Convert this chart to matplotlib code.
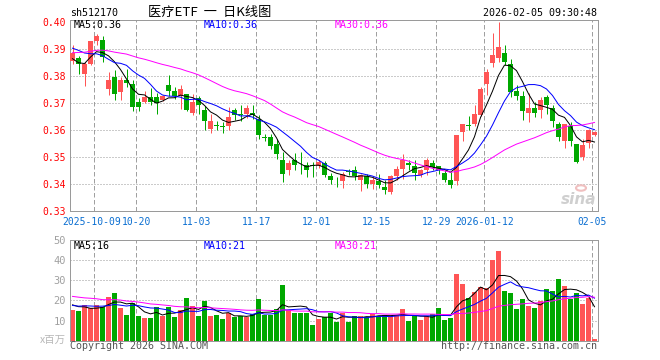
import numpy as np
import pandas as pd
import matplotlib
matplotlib.use("Agg")
import matplotlib.pyplot as plt
from matplotlib import transforms

# ---------------- data ----------------
tick_idx = [4, 11, 21, 31, 41, 51, 61, 69, 87]
tick_labels = ["2025-10-09", "10-20", "11-03", "11-17", "12-01",
               "12-15", "12-29", "2026-01-12", "02-05"]

open_ = [0.3854, 0.3864, 0.3807, 0.3844, 0.3927, 0.3934, 0.3752, 0.3795, 0.3740, 0.3783,
         0.3770, 0.3702, 0.3702, 0.3722, 0.3721, 0.3709, 0.3764, 0.3743, 0.3723, 0.3731,
         0.3662, 0.3719, 0.3672, 0.3603, 0.3617, 0.3611, 0.3612, 0.3672, 0.3657, 0.3657,
         0.3662, 0.3641, 0.3573, 0.3573, 0.3548, 0.3489, 0.3449, 0.3489, 0.3478, 0.3471,
         0.3467, 0.3465, 0.3476, 0.3427, 0.3408, 0.3410, 0.3448, 0.3449, 0.3415, 0.3427,
         0.3400, 0.3409, 0.3387, 0.3369, 0.3427, 0.3456, 0.3476, 0.3465, 0.3431, 0.3449,
         0.3476, 0.3465, 0.3439, 0.3415, 0.3410, 0.3591, 0.3618, 0.3620, 0.3653, 0.3770,
         0.3847, 0.3865, 0.3885, 0.3844, 0.3743, 0.3723, 0.3661, 0.3681, 0.3674, 0.3721,
         0.3681, 0.3620, 0.3560, 0.3612, 0.3548, 0.3499, 0.3552, 0.3580]
high = [0.3915, 0.3872, 0.3851, 0.3930, 0.3955, 0.3947, 0.3814, 0.3822, 0.3795, 0.3826,
        0.3783, 0.3718, 0.3743, 0.3756, 0.3735, 0.3730, 0.3804, 0.3758, 0.3764, 0.3733,
        0.3731, 0.3724, 0.3686, 0.3657, 0.3632, 0.3628, 0.3684, 0.3682, 0.3690, 0.3690,
        0.3690, 0.3653, 0.3585, 0.3585, 0.3567, 0.3517, 0.3486, 0.3514, 0.3518, 0.3481,
        0.3481, 0.3486, 0.3483, 0.3440, 0.3426, 0.3443, 0.3455, 0.3467, 0.3435, 0.3435,
        0.3425, 0.3437, 0.3415, 0.3431, 0.3467, 0.3509, 0.3486, 0.3486, 0.3455, 0.3496,
        0.3489, 0.3467, 0.3449, 0.3443, 0.3580, 0.3620, 0.3652, 0.3690, 0.3758, 0.3826,
        0.3958, 0.3998, 0.3915, 0.3863, 0.3765, 0.3745, 0.3735, 0.3702, 0.3722, 0.3728,
        0.3690, 0.3630, 0.3620, 0.3630, 0.3548, 0.3565, 0.3602, 0.3595]
low = [0.3845, 0.3807, 0.3762, 0.3840, 0.3912, 0.3850, 0.3728, 0.3709, 0.3709, 0.3758,
       0.3669, 0.3669, 0.3700, 0.3690, 0.3659, 0.3705, 0.3723, 0.3715, 0.3678, 0.3668,
       0.3653, 0.3657, 0.3600, 0.3588, 0.3600, 0.3588, 0.3598, 0.3635, 0.3632, 0.3643,
       0.3640, 0.3567, 0.3560, 0.3530, 0.3493, 0.3406, 0.3434, 0.3449, 0.3437, 0.3425,
       0.3425, 0.3458, 0.3425, 0.3400, 0.3388, 0.3383, 0.3432, 0.3412, 0.3374, 0.3385,
       0.3380, 0.3383, 0.3363, 0.3363, 0.3415, 0.3419, 0.3452, 0.3415, 0.3425, 0.3431,
       0.3449, 0.3437, 0.3405, 0.3383, 0.3397, 0.3560, 0.3600, 0.3612, 0.3649, 0.3727,
       0.3832, 0.3850, 0.3838, 0.3721, 0.3709, 0.3636, 0.3630, 0.3647, 0.3645, 0.3660,
       0.3610, 0.3560, 0.3531, 0.3541, 0.3477, 0.3486, 0.3533, 0.3575]
close = [0.3885, 0.3843, 0.3843, 0.3927, 0.3947, 0.3868, 0.3783, 0.3733, 0.3783, 0.3772,
         0.3684, 0.3684, 0.3721, 0.3703, 0.3699, 0.3723, 0.3743, 0.3724, 0.3752, 0.3674,
         0.3702, 0.3690, 0.3632, 0.3632, 0.3615, 0.3609, 0.3647, 0.3653, 0.3655, 0.3681,
         0.3653, 0.3579, 0.3570, 0.3538, 0.3509, 0.3437, 0.3476, 0.3471, 0.3475, 0.3452,
         0.3465, 0.3480, 0.3431, 0.3412, 0.3405, 0.3437, 0.3445, 0.3427, 0.3431, 0.3400,
         0.3415, 0.3397, 0.3375, 0.3427, 0.3456, 0.3489, 0.3468, 0.3439, 0.3449, 0.3489,
         0.3462, 0.3449, 0.3415, 0.3397, 0.3579, 0.3620, 0.3615, 0.3659, 0.3752, 0.3813,
         0.3875, 0.3906, 0.3850, 0.3740, 0.3723, 0.3671, 0.3681, 0.3661, 0.3711, 0.3690,
         0.3634, 0.3573, 0.3620, 0.3560, 0.3480, 0.3542, 0.3600, 0.3590]
volume = [15, 14.5, 17.5, 16.3, 17.5, 16.8, 21.7, 23.7, 16.2, 13,
          18.7, 12.5, 11.2, 11.2, 16.7, 12.2, 16.7, 11.7, 15.3, 21.2,
          17.2, 12.2, 19.7, 12.2, 13, 11, 13.8, 11.7, 12.2, 11.7,
          13.3, 20.5, 12.8, 12.8, 15.8, 27.5, 15, 13.8, 13.8, 13.8,
          8, 10.8, 12, 13.8, 9.2, 13.8, 9.5, 12.2, 12.5, 11.7,
          13.3, 12.2, 12.8, 12.2, 12.8, 15.5, 10, 12.2, 10.5, 12.2,
          13.3, 16.2, 10.5, 11.2, 33, 28, 21.2, 24.2, 26.7, 26.3,
          40, 44.5, 24.5, 23.7, 15.5, 20.5, 17.2, 16.2, 19.5, 25.5,
          24.5, 30.5, 27, 20.5, 23.8, 18, 21.2, 0.8]

# estimated history before the visible window (only used to warm up the moving averages)
prior_close = [0.3810, 0.3820, 0.3825, 0.3835, 0.3850, 0.3862, 0.3875, 0.3890, 0.3880, 0.3895,
               0.3888, 0.3878, 0.3890, 0.3902, 0.3910, 0.3898, 0.3905, 0.3915, 0.3900, 0.3902,
               0.3925, 0.3940, 0.3955, 0.3948, 0.3937, 0.3918, 0.3858, 0.3807, 0.3847]
prior_volume = [26, 28, 22, 25, 30, 24, 21, 23, 27, 25, 22, 24, 26, 23, 21, 25, 24, 22, 23, 24,
                18, 16, 17, 19, 16, 19, 18, 20, 17]

# ---------------- styling ----------------
W, H = 660, 360
RED = '#ff5555'
GREEN = '#00a800'
C_MA5, C_MA10, C_MA30 = '#000000', '#0000ff', '#ff00ff'
GRID = '#a0a0a0'
FRAME = '#9a9a9a'
MONO = 'DejaVu Sans Mono'
CJK = ['Noto Sans CJK SC', 'DejaVu Sans']
PX = 0.72  # one pixel in points

fig = plt.figure(figsize=(6.6, 3.6), dpi=100)
fig.patch.set_facecolor('white')


def rect(l, t, r, b):
    return [l / W, 1 - b / H, (r - l) / W, (b - t) / H]


def fx(px):
    return px / W


def fy(py):
    return 1 - py / H


ax = fig.add_axes(rect(70, 20, 598, 210.7))
axv = fig.add_axes(rect(70, 240, 598, 340.7))

n = len(close)
xs = np.arange(n)
o = np.array(open_)
c = np.array(close)
hi = np.array(high)
lo = np.array(low)
vol = np.array(volume)
up = c >= o
cols = np.where(up, RED, GREEN)

cs = pd.Series(prior_close + close)
ma5 = cs.rolling(5).mean().values[-n:]
ma10 = cs.rolling(10).mean().values[-n:]
ma30 = cs.rolling(30).mean().values[-n:]
vs = pd.Series(prior_volume + volume)
vma5 = vs.rolling(5).mean().values[-n:]
vma10 = vs.rolling(10).mean().values[-n:]
vma30 = vs.rolling(30).mean().values[-n:]

x0, x1 = (70 - 72.5) / 6, (598 - 72.5) / 6
grid_x = [t - 0.35 for t in tick_idx]

for a in (ax, axv):
    a.set_xlim(x0, x1)
    for s in a.spines.values():
        s.set_color(FRAME)
        s.set_linewidth(PX)
    a.tick_params(length=0)
    for gx in grid_x:
        a.axvline(gx, color=GRID, lw=PX, linestyle=(0, (4.5, 2.5)), zorder=0)
    a.set_xticks([])

# ---- main price panel ----
ax.set_ylim(0.33, 0.33 + 190.7 / 2700)
yt = [0.33, 0.34, 0.35, 0.36, 0.37, 0.38, 0.39, 0.40]
for yv in yt[1:-1]:
    ax.axhline(yv, color='#999999', lw=PX, linestyle=(0, (1, 2)), zorder=0)
ax.set_yticks(yt)
ax.set_yticklabels([f"{v:.2f}" for v in yt], color='#ff0000', family=MONO, fontsize=7)
ax.tick_params(axis='y', pad=3)

ax.vlines(xs, lo, hi, colors=cols, lw=PX, zorder=2)
body_h = np.maximum(np.abs(c - o), 0.0003)
ax.bar(xs, body_h, bottom=np.minimum(o, c), width=0.8, color=cols,
       linewidth=0, antialiased=False, zorder=3)
ax.plot(xs, ma5, color=C_MA5, lw=PX, zorder=4)
ax.plot(xs, ma10, color=C_MA10, lw=PX, zorder=4)
ax.plot(xs, ma30, color=C_MA30, lw=PX, zorder=4)

# date labels under price panel
for t, lab in zip(tick_idx, tick_labels):
    shift = -3 if t == tick_idx[0] else 0
    tr = transforms.blended_transform_factory(ax.transData, ax.transAxes) + \
        transforms.ScaledTranslation(shift / 100, 0, fig.dpi_scale_trans)
    ax.text(t - 0.35, -0.033, lab, transform=tr, ha='center', va='top',
            color='#0a6ed1', family=MONO, fontsize=7, clip_on=False)

# ---- volume panel ----
axv.set_ylim(0, 50)
for yv in [10, 20, 30, 40]:
    axv.axhline(yv, color='#999999', lw=PX, linestyle=(0, (1, 2)), zorder=0)
axv.set_yticks([10, 20, 30, 40, 50])
axv.set_yticklabels(['10', '20', '30', '40', '50'], color='#a0a0a0', family=MONO, fontsize=7.5)
axv.tick_params(axis='y', pad=3)
axv.bar(xs, vol, width=0.83, color=cols, linewidth=0, antialiased=False, zorder=2)
axv.plot(xs, vma5, color=C_MA5, lw=PX, zorder=4)
axv.plot(xs, vma10, color=C_MA10, lw=PX, zorder=4)
axv.plot(xs, vma30, color=C_MA30, lw=PX, zorder=4)

# ---- texts ----
fig.text(fx(70), fy(13), "sh512170", ha='left', va='center', family=MONO, fontsize=7.2, color='black')
fig.text(fx(210), fy(12.5), "医疗ETF  一  日K线图", ha='center', va='center', family=CJK,
         fontsize=9.5, color='black')
fig.text(fx(597), fy(13), "2026-02-05 09:30:48", ha='right', va='center', family=MONO,
         fontsize=7.2, color='black')

fig.text(fx(74), fy(25.5), f"MA5:{ma5[-1]:.2f}", ha='left', va='center', family=MONO,
         fontsize=7.2, color=C_MA5)
fig.text(fx(204), fy(25.5), f"MA10:{ma10[-1]:.2f}", ha='left', va='center', family=MONO,
         fontsize=7.2, color=C_MA10)
fig.text(fx(335), fy(25.5), f"MA30:{ma30[-1]:.2f}", ha='left', va='center', family=MONO,
         fontsize=7.2, color=C_MA30)

fig.text(fx(74), fy(246), f"MA5:{int(vma5[-1])}", ha='left', va='center', family=MONO,
         fontsize=7.2, color=C_MA5)
fig.text(fx(204), fy(246), f"MA10:{int(vma10[-1])}", ha='left', va='center', family=MONO,
         fontsize=7.2, color=C_MA10)
fig.text(fx(335), fy(246), f"MA30:{int(vma30[-1])}", ha='left', va='center', family=MONO,
         fontsize=7.2, color=C_MA30)

fig.text(fx(66), fy(340), "x百万", ha='right', va='center', family=CJK, fontsize=7.5,
         color='#b8b8b8')
fig.text(fx(70), fy(346), "Copyright 2026 SINA.COM", ha='left', va='center', family=MONO,
         fontsize=7.2, color='#555555')
fig.text(fx(597), fy(346), "http://finance.sina.com.cn", ha='right', va='center', family=MONO,
         fontsize=7.2, color='#555555')

# sina watermark
fig.text(fx(596), fy(199), "sina", ha='right', va='center', family='DejaVu Sans',
         fontsize=11, fontweight='bold', style='italic', color='#cfcfcf', zorder=1)
fig.patches.append(plt.Circle((fx(581), fy(188)), 5 / W, transform=fig.transFigure,
                              facecolor='none', edgecolor='#f0c0c0', lw=1.5))

fig.savefig("out.png", dpi=100, facecolor='white')
